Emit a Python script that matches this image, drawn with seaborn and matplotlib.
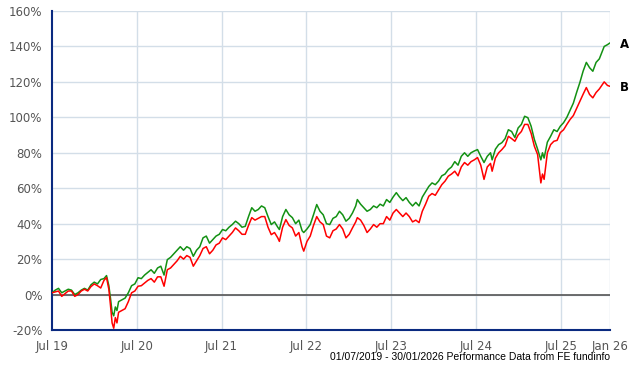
import pandas as pd
import numpy as np
import matplotlib.pyplot as plt
import seaborn as sns

# Valores (rentabilidad acumulada en %)
dates = [
    "2019-07-01", "2019-07-15", "2019-07-29", "2019-08-12", "2019-08-26", "2019-09-09",
    "2019-09-23", "2019-10-07", "2019-10-21", "2019-11-04", "2019-11-18", "2019-12-02",
    "2019-12-16", "2019-12-30", "2020-01-13", "2020-01-27", "2020-02-10", "2020-02-21",
    "2020-03-02", "2020-03-09", "2020-03-16", "2020-03-23", "2020-03-30", "2020-04-06",
    "2020-04-13", "2020-04-27", "2020-05-11", "2020-05-25", "2020-06-08", "2020-06-22",
    "2020-07-06", "2020-07-20", "2020-08-03", "2020-08-17", "2020-08-31", "2020-09-14",
    "2020-09-28", "2020-10-12", "2020-10-26", "2020-11-09", "2020-11-23", "2020-12-07",
    "2020-12-21", "2021-01-04", "2021-01-18", "2021-02-01", "2021-02-15", "2021-03-01",
    "2021-03-15", "2021-03-29", "2021-04-12", "2021-04-26", "2021-05-10", "2021-05-24",
    "2021-06-07", "2021-06-21", "2021-07-05", "2021-07-19", "2021-08-02", "2021-08-16",
    "2021-08-30", "2021-09-13", "2021-09-27", "2021-10-11", "2021-10-25", "2021-11-08",
    "2021-11-22", "2021-12-06", "2021-12-20", "2022-01-03", "2022-01-17", "2022-01-31",
    "2022-02-14", "2022-02-28", "2022-03-07", "2022-03-21", "2022-04-04", "2022-04-18",
    "2022-05-02", "2022-05-16", "2022-05-30", "2022-06-13", "2022-06-20", "2022-07-04",
    "2022-07-18", "2022-08-01", "2022-08-15", "2022-08-29", "2022-09-12", "2022-09-26",
    "2022-10-10", "2022-10-24", "2022-11-07", "2022-11-21", "2022-12-05", "2022-12-19",
    "2023-01-02", "2023-01-16", "2023-01-30", "2023-02-06", "2023-02-20", "2023-03-06",
    "2023-03-20", "2023-04-03", "2023-04-17", "2023-05-01", "2023-05-15", "2023-05-29",
    "2023-06-12", "2023-06-26", "2023-07-10", "2023-07-24", "2023-08-07", "2023-08-21",
    "2023-09-04", "2023-09-18", "2023-10-02", "2023-10-16", "2023-10-30", "2023-11-13",
    "2023-11-27", "2023-12-11", "2023-12-25", "2024-01-08", "2024-01-22", "2024-02-05",
    "2024-02-19", "2024-03-04", "2024-03-18", "2024-04-01", "2024-04-15", "2024-04-29",
    "2024-05-13", "2024-05-27", "2024-06-10", "2024-06-24", "2024-07-08", "2024-07-22",
    "2024-08-05", "2024-08-19", "2024-09-02", "2024-09-09", "2024-09-23", "2024-10-07",
    "2024-10-21", "2024-11-04", "2024-11-18", "2024-12-02", "2024-12-16", "2024-12-30",
    "2025-01-13", "2025-01-27", "2025-02-10", "2025-02-24", "2025-03-10", "2025-03-24",
    "2025-04-07", "2025-04-14", "2025-04-21", "2025-05-05", "2025-05-19", "2025-06-02",
    "2025-06-16", "2025-06-30", "2025-07-14", "2025-07-28", "2025-08-11", "2025-08-25",
    "2025-09-08", "2025-09-22", "2025-10-06", "2025-10-20", "2025-11-03", "2025-11-17",
    "2025-12-01", "2025-12-15", "2026-01-05", "2026-01-19", "2026-01-30",
]

serie_a = [
    1, 2.5, 3.5, 1, 2, 3, 2.5, 0, 1, 2.5, 3.5, 2.5,
    5.5, 7, 6, 8.5, 9, 10.7, 5, -2, -10, -12, -7, -9,
    -4, -3, -2, 1, 5, 6, 9.5, 9, 11, 12.5, 14, 12,
    15, 16, 11, 19.7, 21, 23, 25, 27, 25, 27, 26, 21.6,
    25, 27, 32, 33, 29, 31, 33, 34, 36.7, 36, 38, 39.5,
    41.4, 40, 38, 38.5, 44, 49, 47, 48, 50, 49, 44, 39.5,
    41, 38, 36.7, 44, 48, 45, 43.4, 40, 42, 36, 35, 37,
    39.5, 45, 50.8, 47, 45, 40, 39.5, 43, 44, 47, 45, 41.4,
    43, 46, 50, 53.6, 51, 49, 47, 48, 50, 49, 51, 50,
    53.6, 52, 55, 57.5, 55, 53, 54.7, 52, 50, 52, 50, 55,
    58, 61, 63, 62, 64, 67, 68, 70.5, 72, 75, 73, 78,
    80, 78, 80, 81, 81.8, 78, 74.5, 78, 80, 76, 82, 84.6,
    85.7, 88, 93, 92, 88.6, 94, 96, 100.6, 99.8, 95, 87.5, 82,
    76, 80, 77, 86, 89.3, 93, 92, 95, 97, 100, 104, 108,
    114, 119.6, 126, 131, 128, 126, 131, 133, 140, 141, 142,
]

serie_b = [
    1, 1.5, 2, -1, 0.5, 2, 2, -1, 0, 2, 3, 2,
    4.5, 6, 5, 3.7, 8, 9.6, 3, -6, -16, -19, -13, -16,
    -10, -9, -8, -4, 1, 2, 4.7, 5, 6.5, 8, 9, 7,
    10, 10, 4.7, 14, 15, 17, 19, 21.6, 20, 22, 21, 16,
    19, 22, 26, 27, 23, 25, 28, 29, 32, 31, 33, 35,
    37.6, 36, 34, 34, 39, 43.4, 42, 43, 44, 44, 38, 33.8,
    35, 32, 30, 38, 42.3, 39, 37.6, 33, 35, 27, 24.5, 30,
    33, 39, 44, 41, 39.5, 33, 32, 36, 37, 39.5, 37, 32,
    34, 37.6, 41, 43.4, 42, 39, 35, 37, 39.5, 38, 40, 40,
    44, 42, 46, 48, 46, 44, 46, 44, 41, 42, 40.6, 47,
    51, 55.5, 57, 56, 59, 62, 64, 66.8, 68, 69.6, 67, 72,
    74.5, 73, 75, 76, 77.3, 73, 65, 72, 74, 69.6, 77, 80,
    81.8, 84, 89.3, 88, 86.5, 90, 92, 96, 96, 91, 83.7, 79,
    63, 68, 65, 80, 84.6, 86.5, 87, 91.4, 93, 96, 98.8, 101,
    105, 109, 113, 116.8, 112.9, 111, 114, 116, 120, 118, 117.5,
]

nombres = ["A", "B"]
colores = ["#139113", "#ff0000"]

ytick_vals = [-20, 0, 20, 40, 60, 80, 100, 120, 140, 160]
xtick_dates = ["2019-07-01", "2020-07-01", "2021-07-01", "2022-07-01",
               "2023-07-01", "2024-07-01", "2025-07-01", "2026-01-30"]
xtick_labels = ["Jul 19", "Jul 20", "Jul 21", "Jul 22", "Jul 23", "Jul 24", "Jul 25", "Jan 26"]
pie = "01/07/2019 - 30/01/2026 Performance Data from FE fundinfo"

df = pd.DataFrame({"date": pd.to_datetime(dates), "A": serie_a, "B": serie_b})

sns.set_style("white")
plt.rcParams['font.family'] = ['DejaVu Sans']

fig = plt.figure(figsize=(6.4, 3.7), dpi=100)
ax = fig.add_axes([52 / 640, 40 / 370, 558 / 640, 319 / 370])

# Cuadrícula
for v in ytick_vals[1:]:
    ax.axhline(v, color="#d3dee8", linewidth=1, zorder=0)
for d in xtick_dates[1:]:
    ax.axvline(pd.Timestamp(d), color="#d3dee8", linewidth=1, zorder=0)
ax.axhline(0, color="#555555", linewidth=1.2, zorder=1)

# Series
for nombre, color in zip(nombres, colores):
    sns.lineplot(data=df, x="date", y=nombre, color=color, linewidth=1.1, ax=ax, zorder=3)
    ax.annotate(nombre, xy=(df["date"].iloc[-1], df[nombre].iloc[-1]), xytext=(7, -1),
                textcoords="offset points", va="center", ha="left",
                fontsize=8.5, fontweight="bold", color="black", annotation_clip=False)

ax.set_xlim(pd.Timestamp("2019-07-01"), pd.Timestamp("2026-01-30"))
ax.set_ylim(-20, 160)
ax.set_yticks(ytick_vals)
ax.set_yticklabels([f"{v}%" for v in ytick_vals])
ax.set_xticks(pd.to_datetime(xtick_dates))
ax.set_xticklabels(xtick_labels)
ax.set_xlabel("")
ax.set_ylabel("")
ax.tick_params(axis="both", length=0, labelsize=8.5, labelcolor="#555555")
ax.tick_params(axis="y", pad=7)
ax.tick_params(axis="x", pad=7)

for s in ["top", "right"]:
    ax.spines[s].set_visible(False)
for s in ["left", "bottom"]:
    ax.spines[s].set_color("#0a2a80")
    ax.spines[s].set_linewidth(1.5)

fig.text(610 / 640, 1 - 357 / 370, pie, ha="right", va="center", fontsize=7.5,
         family="Liberation Sans", color="black")

plt.savefig("out.png", dpi=100)
